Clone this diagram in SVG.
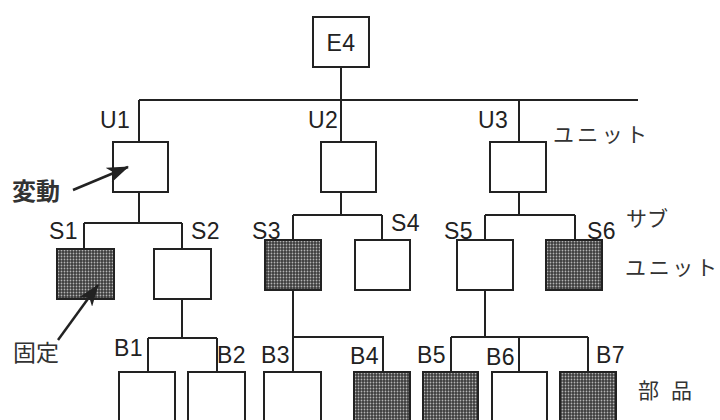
<svg xmlns="http://www.w3.org/2000/svg" width="720" height="420" viewBox="0 0 720 420">
  <defs>
    <pattern id="dots" width="3" height="3" patternUnits="userSpaceOnUse">
      <rect width="3" height="3" fill="#3c3c3c"/>
      <circle cx="1.5" cy="1.5" r="0.9" fill="#b4b4b4"/>
    </pattern>
    <marker id="head" viewBox="0 0 22 16" refX="21" refY="8" markerWidth="22" markerHeight="16" markerUnits="userSpaceOnUse" orient="auto">
      <path d="M0,0 L22,8 L0,16 L6,8 Z" fill="#222"/>
    </marker>
  </defs>
  <style>
    .box { fill: #fff; stroke: #222; stroke-width: 2; }
    .fixed { fill: url(#dots); stroke: #222; stroke-width: 2; }
    .wire { fill: none; stroke: #222; stroke-width: 2; }
    .lbl { font-family: "Liberation Sans", Arial, sans-serif; font-size: 23px; fill: #222; letter-spacing: 0.5px; }
    .jp { font-family: "Noto Sans CJK JP", "Noto Sans", sans-serif; fill: #333; }
    .arrow { fill: none; stroke: #222; stroke-width: 2.5; }
  </style>
  <rect width="720" height="420" fill="#fff"/>

  <!-- connectors -->
  <g id="connectors" class="wire">
    <path d="M341,67 V100 M139,100 H638 M139,100 V142 M341,100 V142 M519,100 V142"/>
    <path d="M139,192 V223 M84,223 H182 M84,223 V249 M182,223 V249"/>
    <path d="M341,192 V215 M293,215 H382 M293,215 V240 M382,215 V240"/>
    <path d="M519,192 V215 M485,215 H575 M485,215 V240 M575,215 V240"/>
    <path d="M182,299 V338 M148,338 H217 M148,338 V372 M217,338 V372"/>
    <path d="M293,290 V337 H383 V372 M293,337 V372"/>
    <path d="M485,290 V337 M451,337 H588 M451,337 V372 M519,337 V372 M588,337 V372"/>
  </g>

  <!-- top level -->
  <g id="E4">
    <rect class="box" x="313" y="17" width="56" height="50"/>
    <text class="lbl" x="341" y="51" text-anchor="middle">E4</text>
  </g>

  <!-- units -->
  <g id="U1">
    <rect class="box" x="113" y="142" width="55" height="50"/>
    <text class="lbl" x="100" y="128">U1</text>
  </g>
  <g id="U2">
    <rect class="box" x="321" y="142" width="55" height="50"/>
    <text class="lbl" x="308" y="128">U2</text>
  </g>
  <g id="U3">
    <rect class="box" x="490" y="142" width="56" height="50"/>
    <text class="lbl" x="478" y="128">U3</text>
  </g>

  <!-- sub-units -->
  <g id="S1">
    <rect class="fixed" x="57" y="249" width="57" height="50"/>
    <text class="lbl" x="49" y="239">S1</text>
  </g>
  <g id="S2">
    <rect class="box" x="154" y="249" width="57" height="50"/>
    <text class="lbl" x="191" y="239">S2</text>
  </g>
  <g id="S3">
    <rect class="fixed" x="265" y="240" width="56" height="50"/>
    <text class="lbl" x="252" y="239">S3</text>
  </g>
  <g id="S4">
    <rect class="box" x="355" y="240" width="55" height="50"/>
    <text class="lbl" x="391" y="231">S4</text>
  </g>
  <g id="S5">
    <rect class="box" x="457" y="240" width="56" height="50"/>
    <text class="lbl" x="444" y="239">S5</text>
  </g>
  <g id="S6">
    <rect class="fixed" x="546" y="240" width="56" height="50"/>
    <text class="lbl" x="587" y="239">S6</text>
  </g>

  <!-- parts -->
  <g id="B1">
    <rect class="box" x="119" y="372" width="56" height="60"/>
    <text class="lbl" x="114" y="356">B1</text>
  </g>
  <g id="B2">
    <rect class="box" x="188" y="372" width="57" height="60"/>
    <text class="lbl" x="217" y="363">B2</text>
  </g>
  <g id="B3">
    <rect class="box" x="264" y="372" width="57" height="60"/>
    <text class="lbl" x="261" y="363">B3</text>
  </g>
  <g id="B4">
    <rect class="fixed" x="354" y="372" width="56" height="60"/>
    <text class="lbl" x="350" y="364">B4</text>
  </g>
  <g id="B5">
    <rect class="fixed" x="423" y="372" width="55" height="60"/>
    <text class="lbl" x="417" y="363">B5</text>
  </g>
  <g id="B6">
    <rect class="box" x="492" y="372" width="55" height="60"/>
    <text class="lbl" x="486" y="365">B6</text>
  </g>
  <g id="B7">
    <rect class="fixed" x="560" y="372" width="56" height="60"/>
    <text class="lbl" x="596" y="363">B7</text>
  </g>

  <!-- level captions -->
  <g id="captions" class="jp">
    <text x="553" y="142" font-size="21" textLength="94" lengthAdjust="spacing">ユニット</text>
    <text x="626" y="226" font-size="21">サブ</text>
    <text x="625" y="275" font-size="21" textLength="92" lengthAdjust="spacing">ユニット</text>
    <text x="638" y="398" font-size="21" textLength="54" lengthAdjust="spacing">部品</text>
  </g>

  <!-- annotations -->
  <g id="variable">
    <text class="jp" x="12" y="200" font-size="24" font-weight="bold">変動</text>
    <line class="arrow" x1="73" y1="190" x2="128" y2="167" marker-end="url(#head)"/>
  </g>
  <g id="fixed">
    <text class="jp" x="13" y="361" font-size="23">固定</text>
    <line class="arrow" x1="58" y1="340" x2="98" y2="285" marker-end="url(#head)"/>
  </g>
</svg>
